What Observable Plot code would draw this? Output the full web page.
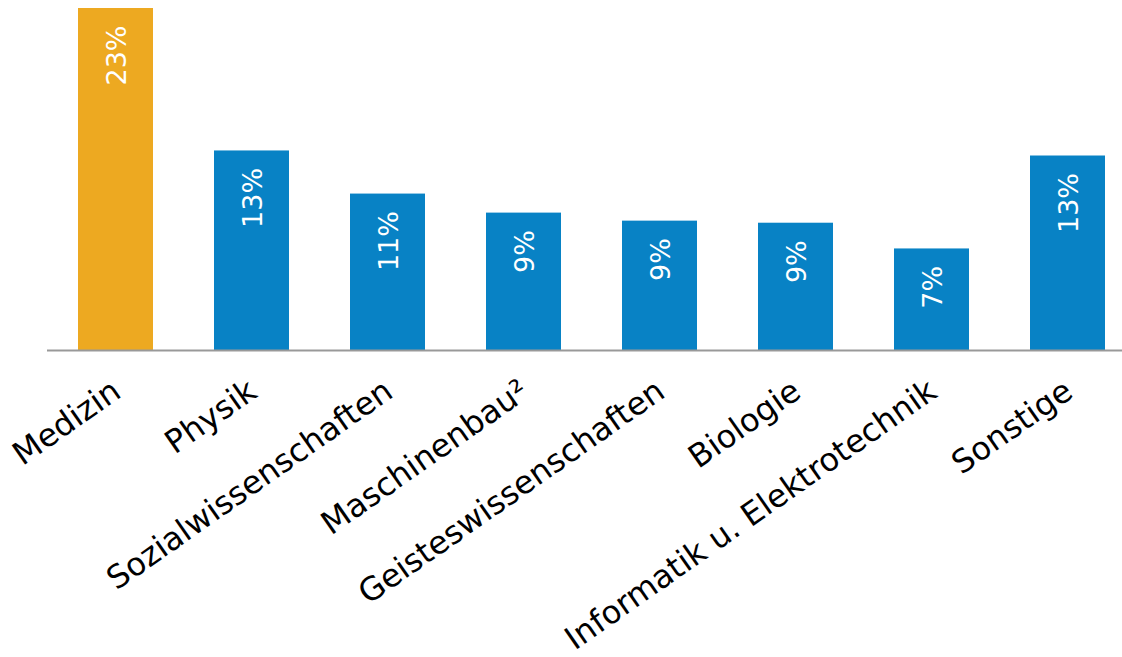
<!DOCTYPE html>
<html>
<head>
<meta charset="utf-8">
<script src="https://cdn.jsdelivr.net/npm/d3@7"></script>
<script src="https://cdn.jsdelivr.net/npm/@observablehq/plot@0.6"></script>
<style>
  html, body { margin: 0; padding: 0; background: #fff; }
  #chart svg { display: block; }
</style>
</head>
<body>
<div id="chart"></div>
<script>
const categories = ["Medizin", "Physik", "Sozialwissenschaften", "Maschinenbau²", "Geisteswissenschaften", "Biologie", "Informatik u. Elektrotechnik", "Sonstige"];
const values = [23.0, 13.42, 10.52, 9.24, 8.70, 8.56, 6.83, 13.08];
const valueLabels = ["23%", "13%", "11%", "9%", "9%", "9%", "7%", "13%"];
const highlight = "Medizin";

const data = categories.map((c, i) => ({category: c, value: values[i], label: valueLabels[i]}));

const ORANGE = "#EDA921";
const BLUE = "#0882C5";
const FONT = "'DejaVu Sans', Verdana, sans-serif";

const chart = Plot.plot({
  width: 1122,
  height: 657,
  marginTop: 8,
  marginBottom: 307,
  marginLeft: 47,
  marginRight: 0,
  style: {fontFamily: FONT, background: "#fff"},
  x: {type: "band", domain: categories, range: [46.4, 1136.4], paddingInner: 0.45, paddingOuter: 0.225, axis: null},
  y: {domain: [0, 23], axis: null},
  marks: [
    Plot.barY(data, {x: "category", y: "value", fill: d => d.category === highlight ? ORANGE : BLUE}),
    Plot.ruleY([0], {stroke: "#999999", strokeWidth: 2}),
    Plot.text(data, {x: "category", y: "value", text: "label", rotate: -90, textAnchor: "end", lineAnchor: "middle", dy: 17, dx: 1, fill: "#fff", fontSize: 27}),
    Plot.text(data, {x: "category", frameAnchor: "bottom", text: "category", rotate: -35, textAnchor: "end", lineAnchor: "middle", dy: 37, dx: 1, fill: "#000", fontSize: 32})
  ]
});
document.getElementById("chart").appendChild(chart);
</script>
</body>
</html>
